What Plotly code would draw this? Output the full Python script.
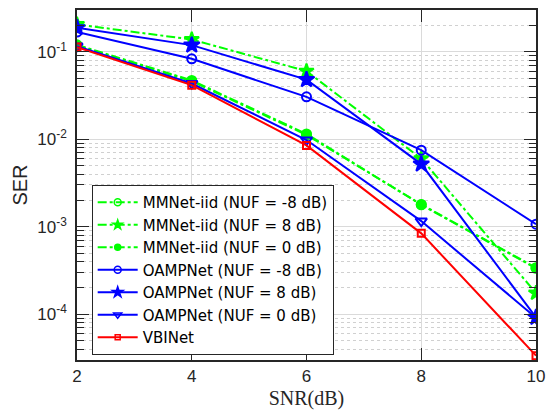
import plotly.graph_objects as go

snr = [2, 4, 6, 8, 10]

mm_m8 = [0.118, 0.046, 0.0112, 0.0018, 3.4e-4]
mm_p8 = [0.205, 0.138, 0.060, 0.0060, 1.75e-4]
mm_0 = [0.120, 0.047, 0.0115, 0.00178, 3.35e-4]
oa_m8 = [0.168, 0.083, 0.0305, 0.0075, 1.07e-3]
oa_p8 = [0.188, 0.119, 0.048, 0.0052, 9.2e-5]
oa_0 = [0.116, 0.0433, 0.0098, 0.00116, 9.1e-5]
vbi = [0.113, 0.0415, 0.0085, 8.4e-4, 3.36e-5]

names = [
    "MMNet-iid (NUF = -8 dB)",
    "MMNet-iid (NUF = 8 dB)",
    "MMNet-iid (NUF = 0 dB)",
    "OAMPNet (NUF = -8 dB)",
    "OAMPNet (NUF = 8 dB)",
    "OAMPNet (NUF = 0 dB)",
    "VBINet",
]
series = [mm_m8, mm_p8, mm_0, oa_m8, oa_p8, oa_0, vbi]

GREEN, BLUE, RED = "#00FF00", "#0000FF", "#FF0000"
styles = [
    dict(color=GREEN, dash="dashdot", symbol="circle-open", size=9, lsize=7),
    dict(color=GREEN, dash="dashdot", symbol="star", size=11, lsize=7),
    dict(color=GREEN, dash="dashdot", symbol="circle", size=9, lsize=6),
    dict(color=BLUE, dash="solid", symbol="circle-open", size=9, lsize=7),
    dict(color=BLUE, dash="solid", symbol="star", size=12, lsize=8),
    dict(color=BLUE, dash="solid", symbol="triangle-down-open", size=10, lsize=7),
    dict(color=RED, dash="solid", symbol="square-open", size=7, lsize=5),
]

fig = go.Figure()
for name, ys, st in zip(names, series, styles):
    fig.add_trace(go.Scatter(
        x=snr, y=ys, name=name, mode="lines+markers", showlegend=False,
        line=dict(color=st["color"], width=2, dash=st["dash"]),
        marker=dict(symbol=st["symbol"], size=st["size"], color=st["color"],
                    line=dict(color=st["color"], width=2)),
    ))
# legend entries (smaller markers, as in the reference legend)
for name, st in zip(names, styles):
    fig.add_trace(go.Scatter(
        x=[None], y=[None], name=name, mode="lines+markers",
        line=dict(color=st["color"], width=2, dash=st["dash"]),
        marker=dict(symbol=st["symbol"], size=st["lsize"], color=st["color"],
                    line=dict(color=st["color"], width=1.5)),
    ))

ytick_vals = [1e-4, 1e-3, 1e-2, 1e-1]
ytick_text = ["10<sup>-4</sup>", "10<sup>-3</sup>", "10<sup>-2</sup>", "10<sup>-1</sup>"]
xtick_vals = [2, 4, 6, 8, 10]

fig.update_layout(
    width=550, height=420,
    margin=dict(l=77, r=14, t=10, b=60),
    paper_bgcolor="white", plot_bgcolor="white",
    font=dict(family="Arial, Liberation Sans", color="#262626"),
    showlegend=True,
    legend=dict(
        x=0.032, y=0.5, xanchor="left", yanchor="top",
        bgcolor="white", bordercolor="#262626", borderwidth=1,
        font=dict(family="DejaVu Sans", size=15, color="#000000"),
        tracegroupgap=0, itemwidth=40,
    ),
    xaxis=dict(
        range=[2, 10], tickvals=xtick_vals, automargin=False,
        ticks="inside", ticklen=12, tickcolor="#262626", tickwidth=1.2,
        showline=True, linecolor="#262626", linewidth=1.5, mirror="allticks",
        showgrid=True, gridcolor="#dadada", gridwidth=1,
        zeroline=False,
        tickfont=dict(size=17, color="#262626"),
        title=dict(text="SNR(dB)", font=dict(family="Liberation Serif, Times New Roman, serif", size=20, color="#262626"), standoff=6),
    ),
    yaxis=dict(
        type="log", range=[-4.523, -0.523], automargin=False,
        tickvals=ytick_vals, ticktext=ytick_text,
        ticks="inside", ticklen=12, tickcolor="#262626", tickwidth=1.2,
        showline=True, linecolor="#262626", linewidth=1.5, mirror="allticks",
        showgrid=True, gridcolor="#dadada", gridwidth=1,
        zeroline=False,
        tickfont=dict(size=17, color="#262626"),
        ticklabelstandoff=5,
        minor=dict(ticks="inside", ticklen=7, tickcolor="#262626",
                   showgrid=True, gridcolor="#d0d0d0", griddash="dot", gridwidth=1,
                   dtick="D1"),
        title=dict(text="SER", font=dict(size=20, color="#262626"), standoff=4),
    ),
)

fig.write_html("out.html", config={"displayModeBar": False},
               post_script="document.body.style.margin='0';")
